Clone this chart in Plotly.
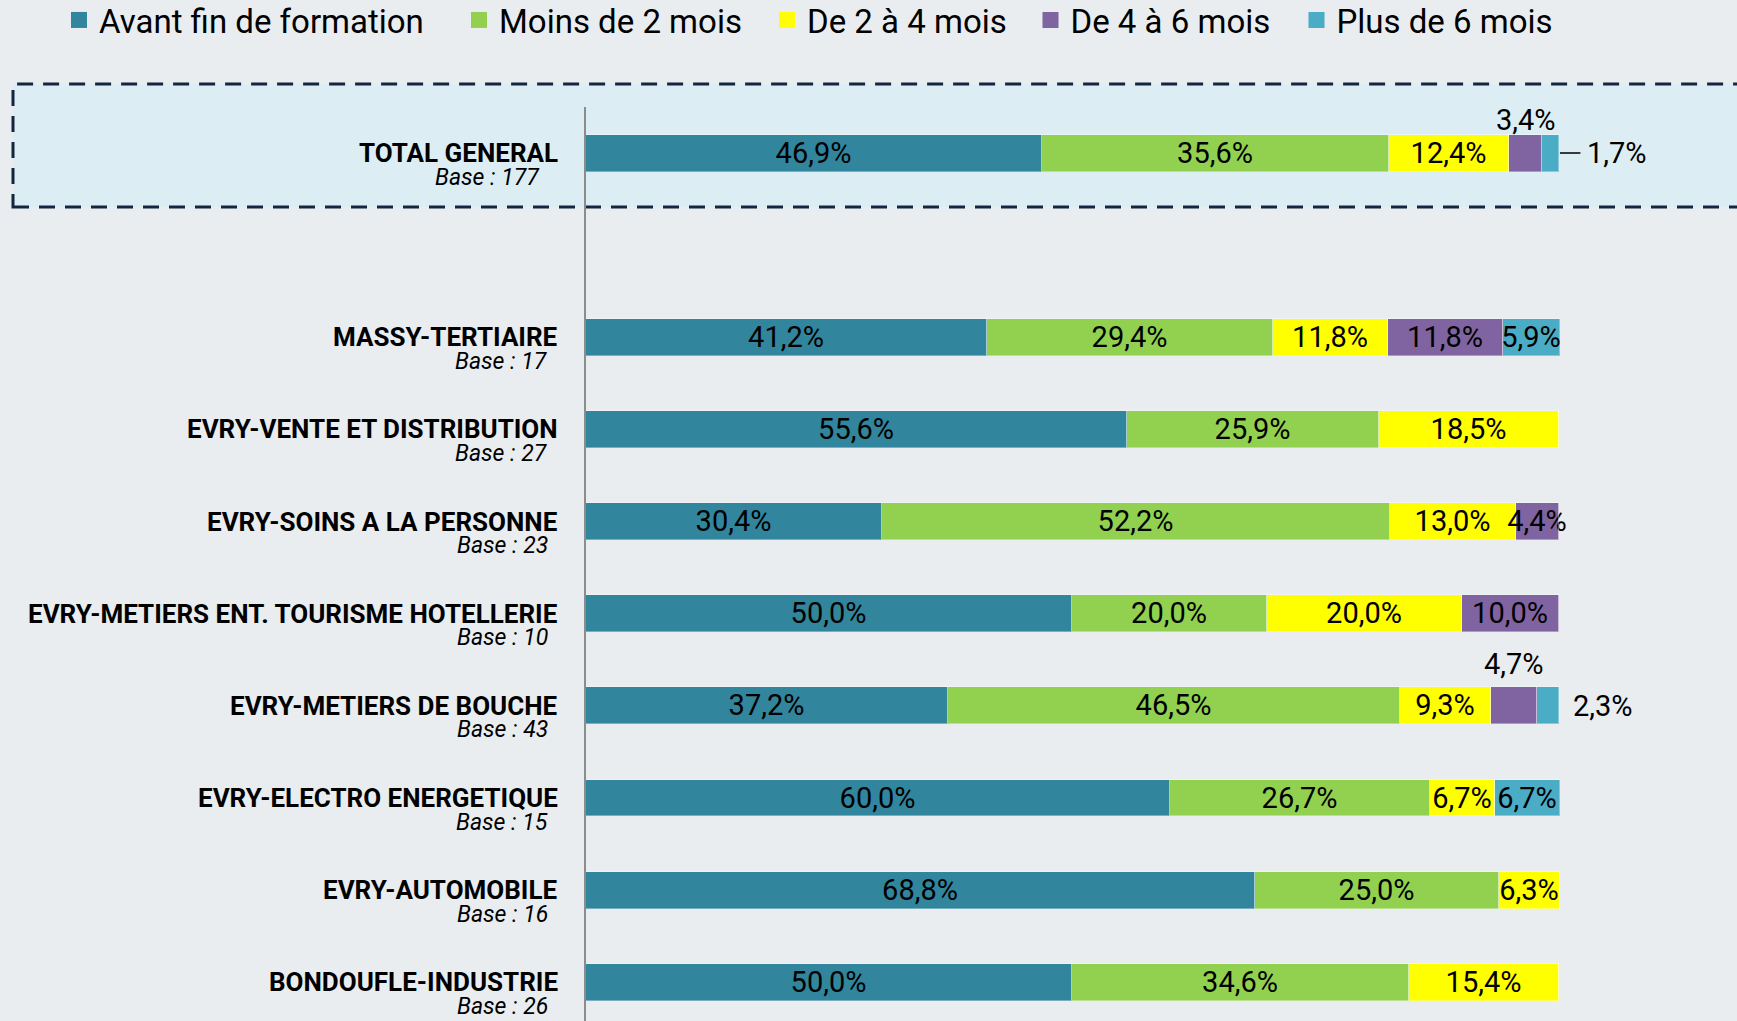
import plotly.graph_objects as go

# ---------------- data ----------------
categories = [
    "TOTAL GENERAL",
    "MASSY-TERTIAIRE",
    "EVRY-VENTE ET DISTRIBUTION",
    "EVRY-SOINS A LA PERSONNE",
    "EVRY-METIERS ENT. TOURISME HOTELLERIE",
    "EVRY-METIERS DE BOUCHE",
    "EVRY-ELECTRO ENERGETIQUE",
    "EVRY-AUTOMOBILE",
    "BONDOUFLE-INDUSTRIE",
]
bases = [177, 17, 27, 23, 10, 43, 15, 16, 26]

series_names = ["Avant fin de formation", "Moins de 2 mois", "De 2 à 4 mois",
                "De 4 à 6 mois", "Plus de 6 mois"]

avant = [46.9, 41.2, 55.6, 30.4, 50.0, 37.2, 60.0, 68.8, 50.0]
moins2 = [35.6, 29.4, 25.9, 52.2, 20.0, 46.5, 26.7, 25.0, 34.6]
de2a4 = [12.4, 11.8, 18.5, 13.0, 20.0, 9.3, 6.7, 6.3, 15.4]
de4a6 = [3.4, 11.8, 0.0, 4.4, 10.0, 4.7, 0.0, 0.0, 0.0]
plus6 = [1.7, 5.9, 0.0, 0.0, 0.0, 2.3, 6.7, 0.0, 0.0]

series_values = [avant, moins2, de2a4, de4a6, plus6]
colors = ["#31859C", "#92D050", "#FFFF00", "#8064A2", "#4BACC6"]

# row positions (blank row between total and the sites)
ypos = [0, 2, 3, 4, 5, 6, 7, 8, 9]

# labels drawn outside the bar: (series index, category index) -> placement
outside_labels = {(3, 0): "above", (4, 0): "right_leader",
                  (3, 5): "above", (4, 5): "right"}


def fmt(v):
    return f"{v:.1f}".replace(".", ",") + "%"


BG = "#E9EDF0"
FONT = "Roboto"

fig = go.Figure()

for si, (name, vals, col) in enumerate(zip(series_names, series_values, colors)):
    texts = []
    for ci, v in enumerate(vals):
        if v <= 0 or (si, ci) in outside_labels:
            texts.append("")
        else:
            texts.append(fmt(v))
    fig.add_trace(go.Bar(
        x=vals, y=ypos, orientation="h", name=name,
        marker=dict(color=col, line=dict(color="rgba(255,255,255,0.35)", width=1)),
        text=texts, textposition="inside", insidetextanchor="middle",
        constraintext="none", textangle=0, cliponaxis=False,
        insidetextfont=dict(family=FONT, size=29, color="black"),
        width=0.4, showlegend=False, hoverinfo="skip",
    ))

# legend entries (one legend per item for exact placement)
legend_centers_px = [84, 484, 792, 1055.5, 1321.5]
L, R = 586, 0
W, H = 1737, 1021
T, B = 107, 0
pw = W - L - R
ph = H - T - B
for si, (name, col) in enumerate(zip(series_names, colors)):
    lname = "legend" if si == 0 else f"legend{si+1}"
    fig.add_trace(go.Scatter(
        x=[None], y=[None], mode="markers", name=name,
        marker=dict(symbol="square", size=16, color=col),
        legend=lname, showlegend=True, hoverinfo="skip",
    ))
    fig.layout[lname] = dict(
        xref="container", yref="container",
        x=(legend_centers_px[si] - 25) / W, xanchor="left",
        y=(H - 20) / H, yanchor="middle",
        orientation="h", bgcolor="rgba(0,0,0,0)", borderwidth=0,
        font=dict(family=FONT, size=33, color="black"),
    )

annotations = []
# category names and bases
for ci, (cat, base, yp) in enumerate(zip(categories, bases, ypos)):
    annotations.append(dict(
        xref="paper", yref="y", x=0, y=yp, xanchor="right", yanchor="middle",
        xshift=-26, yshift=0, showarrow=False,
        text=f"<b>{cat}</b>",
        font=dict(family=FONT, size=26, color="black"),
    ))
    annotations.append(dict(
        xref="paper", yref="y", x=0, y=yp, xanchor="right", yanchor="middle",
        xshift=-44 if ci == 0 else -36, yshift=-24, showarrow=False,
        text=f"<i>Base : {base}</i>",
        font=dict(family=FONT, size=23, color="black"),
    ))

# outside value labels
for (si, ci), place in outside_labels.items():
    vals = [s[ci] for s in series_values]
    start = sum(vals[:si])
    v = vals[si]
    end = sum(vals)
    if place == "above":
        annotations.append(dict(
            x=start + v / 2, y=ypos[ci], xref="x", yref="y",
            xanchor="center", yanchor="bottom", yshift=14 if ci == 0 else 23,
            showarrow=False, text=fmt(v),
            font=dict(family=FONT, size=29, color="black"),
        ))
    elif place == "right_leader":
        annotations.append(dict(
            x=end, y=ypos[ci], xref="x", yref="y",
            showarrow=True, arrowhead=0, arrowwidth=1.5, arrowcolor="black",
            ax=58, ay=0, standoff=1, startstandoff=5, text=fmt(v),
            font=dict(family=FONT, size=29, color="black"),
        ))
    else:
        annotations.append(dict(
            x=end, y=ypos[ci], xref="x", yref="y",
            xanchor="left", yanchor="middle", xshift=12,
            showarrow=False, text=fmt(v),
            font=dict(family=FONT, size=29, color="black"),
        ))

shapes = [dict(
    type="rect", xref="paper", yref="paper",
    x0=(13 - L) / pw, x1=1.05, y0=(H - 207) / ph, y1=(H - 84) / ph,
    fillcolor="#DCEEF4", line=dict(color="#14263F", width=3, dash="16px,10px"),
    layer="below",
)]

fig.update_layout(
    width=W, height=H,
    margin=dict(l=L, r=R, t=T, b=B, pad=0, autoexpand=False),
    paper_bgcolor=BG, plot_bgcolor="rgba(0,0,0,0)",
    barmode="stack", bargap=0,
    showlegend=True,
    xaxis=dict(range=[0, 118.3], visible=False, fixedrange=True),
    yaxis=dict(range=[9.42, -0.5], showticklabels=False, showgrid=False,
               zeroline=False, showline=True, linecolor="#8C8C8C", linewidth=2,
               ticks="", fixedrange=True),
    annotations=annotations, shapes=shapes,
    font=dict(family=FONT, color="black"),
)

fig.write_html(
    "out.html",
    config={"displayModeBar": False},
    post_script="document.body.style.margin='0';document.body.style.overflow='hidden';"
                "document.body.style.background='" + BG + "';",
)
